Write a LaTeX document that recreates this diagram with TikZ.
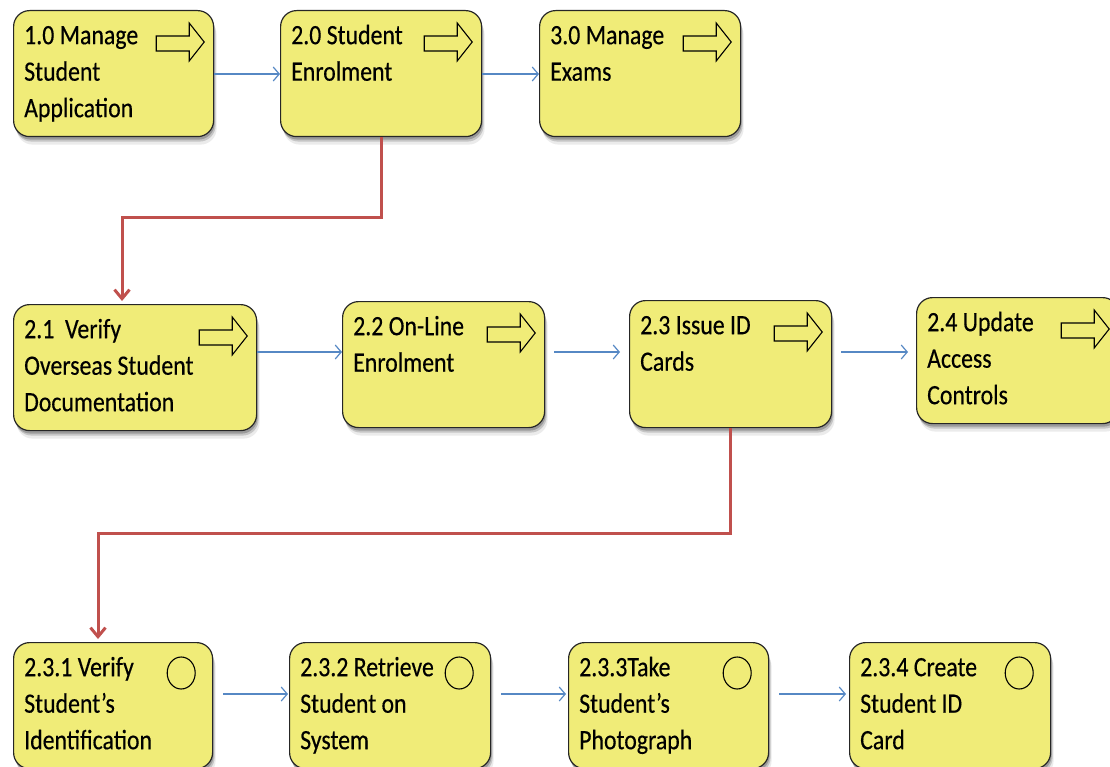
\documentclass[tikz,border=0pt]{standalone}
\usepackage{fontspec}
\setmainfont{Carlito}[FakeStretch=0.85, FakeBold=0.35]
\usetikzlibrary{arrows.meta,shadows,calc}
\definecolor{boxfill}{RGB}{240,236,120}
\definecolor{flowblue}{RGB}{86,136,196}
\definecolor{flowred}{RGB}{192,80,77}
\tikzset{
  proc/.style={draw=black!85, line width=1.2pt, fill=boxfill, rounded corners=16pt,
    anchor=north west, inner sep=0pt, minimum height=126pt,
    drop shadow={shadow xshift=1pt, shadow yshift=-3pt, opacity=0.22, fill=black},
    drop shadow={shadow xshift=2pt, shadow yshift=-5pt, opacity=0.16, fill=black},
    drop shadow={shadow xshift=3pt, shadow yshift=-8pt, opacity=0.08, fill=black}},
  caption/.style={anchor=north west, inner sep=0pt, align=left,
    font=\fontsize{28}{36.5}\selectfont},
  icon/.style={draw=black, line width=1.1pt, fill=boxfill, line join=miter},
  flow/.style={draw=flowblue, line width=1.2pt, -{Straight Barb[length=6pt,width=14pt]}},
  drill/.style={draw=flowred, line width=3pt, -{Straight Barb[length=9pt,width=15pt]}, shorten >=3pt}
}
% block-arrow icon in the top right corner of a process box
\newcommand\fwdicon[1]{\draw[icon] ($(#1.north east)+(-58,26)$) -- ++(33,0) -- ++(0,-13)
  -- ++(15,19) -- ++(-15,19) -- ++(0,-10) -- ++(-33,0) -- cycle;}
% circle icon for elementary processes
\newcommand\leaficon[1]{\draw[icon] ($(#1.north east)+(-32,31)$) ellipse [x radius=14pt, y radius=16pt];}
% text block placed at the top left of a box
\newcommand\boxtext[3]{\node[caption] (#1) at ($(#2.north west)+(11,13)$) {\rule{0pt}{21pt}#3};}

\begin{document}
\begin{tikzpicture}[x=1pt, y=-1pt]
\useasboundingbox (0,0) rectangle (1110,767);
\clip (0,0) rectangle (1110,767);

% top level
\node[proc, minimum width=200pt] (n10) at (13,10) {};
\node[proc, minimum width=201pt] (n20) at (280,10) {};
\node[proc, minimum width=201pt] (n30) at (539,10) {};
% second level
\node[proc, minimum width=243pt] (n21) at (13,304) {};
\node[proc, minimum width=202pt] (n22) at (342,301) {};
\node[proc, minimum width=202pt, minimum height=127pt] (n23) at (629,300) {};
\node[proc, minimum width=202pt] (n24) at (916,297) {};
% third level
\node[proc, minimum width=199pt] (n231) at (13,642) {};
\node[proc, minimum width=201pt] (n232) at (289,642) {};
\node[proc, minimum width=200pt] (n233) at (568,642) {};
\node[proc, minimum width=201pt] (n234) at (849,642) {};

\boxtext{t10}{n10}{1.0 Manage\\Student\\Application}
\boxtext{t20}{n20}{2.0 Student\\Enrolment}
\boxtext{t30}{n30}{3.0 Manage\\Exams}
\boxtext{t21}{n21}{2.1~ Verify\\Overseas Student\\Documentation}
\boxtext{t22}{n22}{2.2 On-Line\\Enrolment}
\boxtext{t23}{n23}{2.3 Issue ID\\Cards}
\boxtext{t24}{n24}{2.4 Update\\Access\\Controls}
\boxtext{t231}{n231}{2.3.1 Verify\\Student’s\\Identification}
\boxtext{t232}{n232}{2.3.2 Retrieve\\Student on\\System}
\boxtext{t233}{n233}{2.3.3Take\\Student’s\\Photograph}
\boxtext{t234}{n234}{2.3.4 Create\\Student ID\\Card}

\fwdicon{n10}\fwdicon{n20}\fwdicon{n30}
\fwdicon{n21}\fwdicon{n22}\fwdicon{n23}\fwdicon{n24}
\leaficon{n231}\leaficon{n232}\leaficon{n233}\leaficon{n234}

% sequence flows within each level
\coordinate (r1) at (0,74);
\coordinate (r2) at (0,352);
\coordinate (r3) at (0,694);
\draw[flow] (n10.east |- r1) -- (n20.west |- r1);
\draw[flow] (n20.east |- r1) -- (n30.west |- r1);
\draw[flow] (n21.east |- r2) -- (n22.west |- r2);
\draw[flow, shorten <=9pt, shorten >=9pt] (n22.east |- r2) -- (n23.west |- r2);
\draw[flow, shorten <=9pt, shorten >=8pt] (n23.east |- r2) -- (n24.west |- r2);
\draw[flow, shorten <=10pt, shorten >=1pt] (n231.east |- r3) -- (n232.west |- r3);
\draw[flow, shorten <=10pt, shorten >=2pt] (n232.east |- r3) -- (n233.west |- r3);
\draw[flow, shorten <=10pt, shorten >=3pt] (n233.east |- r3) -- (n234.west |- r3);

% decomposition links
\coordinate (k1) at (122,218);
\coordinate (k2) at (98,533);
\draw[drill] (n20.south) |- (k1) -- (k1 |- n21.north);
\draw[drill] (n23.south) |- (k2) -- (k2 |- n231.north);
\end{tikzpicture}
\end{document}
